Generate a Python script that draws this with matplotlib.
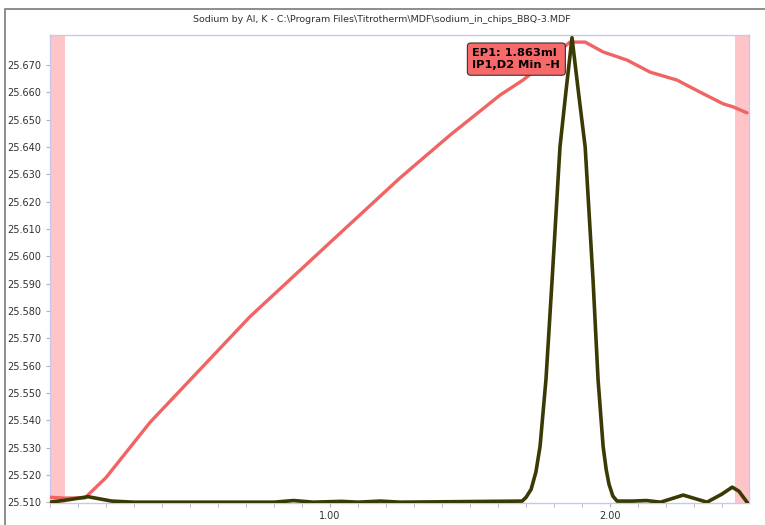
import matplotlib
matplotlib.use("Agg")
import matplotlib.pyplot as plt
from matplotlib.patches import Rectangle
from matplotlib.ticker import FormatStrFormatter, MultipleLocator

# temperature trace (red)
temp_x = [0.0, 0.054, 0.125, 0.20, 0.357, 0.714, 1.011, 1.25, 1.429, 1.607, 1.689,
          1.78, 1.857, 1.911, 1.975, 2.061, 2.143, 2.239, 2.321, 2.404, 2.439, 2.489]
temp_y = [25.5118, 25.5115, 25.5116, 25.5190, 25.5392, 25.5779, 25.6061, 25.6287,
          25.6444, 25.6590, 25.6645, 25.6720, 25.6784, 25.6784, 25.6748, 25.6718,
          25.6674, 25.6645, 25.6601, 25.6558, 25.6547, 25.6525]

# second derivative trace (dark olive)
deriv_x = [0.0, 0.06, 0.136, 0.22, 0.30, 0.80, 0.87, 0.94, 1.04, 1.10, 1.18, 1.25,
           1.686, 1.70, 1.718, 1.735, 1.75, 1.771, 1.793, 1.821, 1.843, 1.864, 1.886,
           1.911, 1.939, 1.957, 1.975, 1.986, 1.996, 2.01, 2.025, 2.08, 2.13, 2.18,
           2.261, 2.346, 2.40, 2.436, 2.46, 2.489]
deriv_y = [25.5100, 25.5108, 25.5120, 25.5104, 25.5100, 25.5100, 25.5106, 25.5100,
           25.5103, 25.5100, 25.5104, 25.5100,
           25.5104, 25.5118, 25.5147, 25.5210, 25.5305, 25.5549, 25.5915, 25.6400,
           25.6609, 25.6800, 25.6609, 25.6400, 25.5915, 25.5549, 25.5305, 25.5220,
           25.5166, 25.5122, 25.5104, 25.5104, 25.5106, 25.5100, 25.5126, 25.5100,
           25.5130, 25.5155, 25.5140, 25.5100]

endpoint_label = "EP1: 1.863ml\nIP1,D2 Min -H"
title = "Sodium by Al, K - C:\\Program Files\\Titrotherm\\MDF\\sodium_in_chips_BBQ-3.MDF"

W, H = 765, 525
fig = plt.figure(figsize=(W / 100, H / 100), dpi=100)
fig.patch.set_facecolor("white")

# outer window frame
fig.add_artist(Rectangle((5 / W, -0.05), 1.2, 1 - 9 / H + 0.05, transform=fig.transFigure,
                         fill=False, edgecolor="#7a7a7a", lw=1.2))

ax = fig.add_axes([50 / W, 22 / H, 699 / W, 468 / H])
ax.set_xlim(0, 2.496)
ax.set_ylim(25.5097, 25.681)

# excluded regions
ax.axvspan(0, 0.052, color="#ffc4c8", lw=0, zorder=1)
ax.axvspan(2.445, 2.496, color="#ffc4c8", lw=0, zorder=1)

ax.plot(temp_x, temp_y, color="#f06464", lw=2.4, zorder=3, solid_capstyle="round")
ax.plot(deriv_x, deriv_y, color="#3a3a05", lw=2.6, zorder=4, solid_joinstyle="round")

ax.text(1.822, 25.6762, endpoint_label, ha="right", va="top", fontsize=8.2,
        fontweight="bold", color="black", zorder=5, linespacing=1.25,
        multialignment="left",
        bbox=dict(boxstyle="round,pad=0.45,rounding_size=0.3", fc="#f86a6a",
                  ec="#333333", lw=0.8))

ax.set_yticks([25.51 + 0.01 * i for i in range(17)])
ax.yaxis.set_major_formatter(FormatStrFormatter("%.3f"))
ax.set_xticks([1.0, 2.0])
ax.xaxis.set_major_formatter(FormatStrFormatter("%.2f"))
ax.xaxis.set_minor_locator(MultipleLocator(0.1))

ax.tick_params(axis="both", labelsize=7, colors="#b0b0c8", labelcolor="#303030",
               length=3, width=0.8)
ax.tick_params(axis="x", which="minor", length=3, colors="#b0b0c8")
ax.tick_params(axis="x", pad=3)

for side in ["top", "bottom", "left", "right"]:
    ax.spines[side].set_color("#c8c8ec")
    ax.spines[side].set_linewidth(1.0)

fig.text(382 / W, 1 - 20 / H, title, ha="center", va="center", fontsize=6.8,
         color="#303030")

fig.savefig("out.png", dpi=100, facecolor="white")
